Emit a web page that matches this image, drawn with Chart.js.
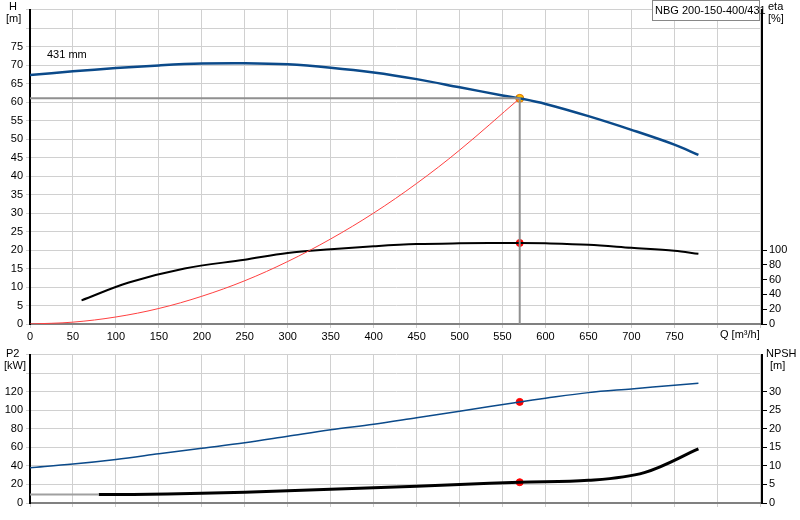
<!DOCTYPE html><html><head><meta charset="utf-8">
<script src="https://cdn.jsdelivr.net/npm/chart.js@4"></script>
<style>body{margin:0;background:#fff}canvas{position:absolute;left:0}</style></head><body>
<canvas id="c1" width="800" height="345" style="top:0;width:800px;height:345px"></canvas>
<canvas id="c2" width="800" height="175" style="top:345px;width:800px;height:175px"></canvas>
<script>
const hQ=[0,50,100,150,200,250,300,350,400,450,500,550,570,600,650,700,750,778];
const hH=[67.3,68.3,69.2,69.9,70.4,70.5,70.2,69.3,68,66.2,64,61.8,61,59.5,56.2,52.5,48.5,45.7];
const sysQ=[0,50,100,150,200,250,300,350,400,450,500,570];
const sysH=[0,0.5,1.9,4.2,7.5,11.7,16.9,23,30,38,47,61];
const etaQ=[60,115,180,250,300,350,400,450,500,570,600,650,700,750,778];
const eta=[32,56,75,87,96,101,105,108,109,109.5,109,107,103,99,95];
const p2Q=[0,50,100,150,200,250,300,350,400,450,500,570,600,650,700,750,778];
const p2=[38,42,47,53,59,65,72,79,85,92,99,109,113,119,123,127,129];
const npQ=[80,120,200,300,400,500,570,650,715,778];
const np=[2.3,2.3,2.6,3.3,4.1,5,5.6,6.1,8.2,14.6];
const qTicks=[0,50,100,150,200,250,300,350,400,450,500,550,600,650,700,750,800,850];
const hTicks=[0,5,10,15,20,25,30,35,40,45,50,55,60,65,70,75,80,85];
const etaTicks=[0,20,40,60,80,100];
const p2Ticks=[0,20,40,60,80,100,120,140,160];
const npTicks=[0,5,10,15,20,25,30];
const opQ=570, opH=61, opEta=109.5, opP2=109, opNp=5.6;
const pts=(a,b)=>a.map((v,i)=>({x:v,y:b[i]}));
const F='Arial, "Liberation Sans", sans-serif';
Chart.defaults.font.family=F;Chart.defaults.font.size=11;Chart.defaults.color='#000';
const grid={color:'#d0d0d0',lineWidth:1};
const setT=arr=>s=>{s.ticks=arr.map(v=>({value:v}))};
function xAxis(h,show){return {type:'linear',min:0,max:852,afterFit:s=>{s.height=h},afterBuildTicks:setT(qTicks),
 ticks:{display:show,autoSkip:false,maxRotation:0,padding:2,callback:v=>v<=750?v:''},
 grid:{...grid,tickLength:4},border:{color:'#808080',width:2}};}
function yL(min,max,arr,lim){return {position:'left',min,max,afterFit:s=>{s.width=30},afterBuildTicks:setT(arr),
 ticks:{autoSkip:false,padding:3,callback:v=>v<=lim?v:''},grid:{...grid,tickLength:4},border:{color:'#000',width:2}};}
function yR(max,arr){return {position:'right',min:0,max,afterFit:s=>{s.width=38},afterBuildTicks:setT(arr),
 ticks:{autoSkip:false,padding:2},grid:{drawOnChartArea:false,tickLength:5,color:'#000'},border:{color:'#000',width:2}};}
const txt={id:'txt',afterDraw(c){const g=c.ctx,o=c.options.plugins.txt;g.save();g.font='11px '+F;g.fillStyle='#000';
 (o.items||[]).forEach(t=>{g.textAlign=t.a||'left';g.fillText(t.s,t.x,t.y)});
 if(o.box){g.strokeStyle='#888';g.lineWidth=1;g.fillStyle='#fff';g.fillRect(652.5,0.5,107,20);g.strokeRect(652.5,0.5,107,20);g.fillStyle='#000';g.textAlign='left';g.fillText('NBG 200-150-400/431',655,14)}
 g.restore();}};
const line=(d,col,w,ax)=>({data:d,showLine:true,borderColor:col,borderWidth:w,pointRadius:0,tension:0.35,yAxisID:ax||'y',fill:false});
new Chart(document.getElementById('c1'),{type:'scatter',plugins:[txt],data:{datasets:[
 {data:[{x:0,y:opH},{x:opQ,y:opH},{x:opQ,y:0}],showLine:true,borderColor:'#909090',borderWidth:2,pointRadius:0,tension:0},
 line(pts(sysQ,sysH),'#ff4040',1),
 line(pts(etaQ,eta),'#000',2,'y2'),
 line(pts(hQ,hH),'#0b4a8a',2.5),
 {data:[{x:opQ,y:opEta}],yAxisID:'y2',pointRadius:3.5,backgroundColor:'#ff0000',borderColor:'#ff0000'},
 {data:[{x:opQ,y:opH}],pointRadius:4,backgroundColor:'#ffc000',borderColor:'#e07000',borderWidth:1}
]},options:{animation:false,responsive:false,layout:{padding:{top:1}},
 plugins:{legend:{display:false},tooltip:{enabled:false},txt:{box:true,items:[{s:'H',x:9,y:10},{s:'[m]',x:6,y:22},{s:'eta',x:768,y:10},{s:'[%]',x:768,y:22},{s:'431 mm',x:47,y:58},{s:'Q [m³/h]',x:720,y:338}]}},
 scales:{x:xAxis(21,true),y:yL(0,85,hTicks,75),y2:yR(425,etaTicks)}}});
new Chart(document.getElementById('c2'),{type:'scatter',plugins:[txt],data:{datasets:[
 {data:[{x:0,y:np[0]},{x:npQ[0],y:np[0]}],showLine:true,yAxisID:'y2',borderColor:'#a0a0a0',borderWidth:2,pointRadius:0},
 line(pts(npQ,np),'#000',3,'y2'),
 line(pts(p2Q,p2),'#0b4a8a',1.5),
 {data:[{x:opQ,y:opP2}],pointRadius:3.5,backgroundColor:'#ff0000',borderColor:'#ff0000'},
 {data:[{x:opQ,y:opNp}],yAxisID:'y2',pointRadius:3.5,backgroundColor:'#ff0000',borderColor:'#ff0000'}
]},options:{animation:false,responsive:false,layout:{padding:{top:8}},
 plugins:{legend:{display:false},tooltip:{enabled:false},txt:{items:[{s:'P2',x:6,y:12},{s:'[kW]',x:4,y:24},{s:'NPSH',x:766,y:12},{s:'[m]',x:770,y:24}]}},
 scales:{x:xAxis(17,false),y:yL(0,160,p2Ticks,120),y2:yR(40,npTicks)}}});
</script></body></html>
